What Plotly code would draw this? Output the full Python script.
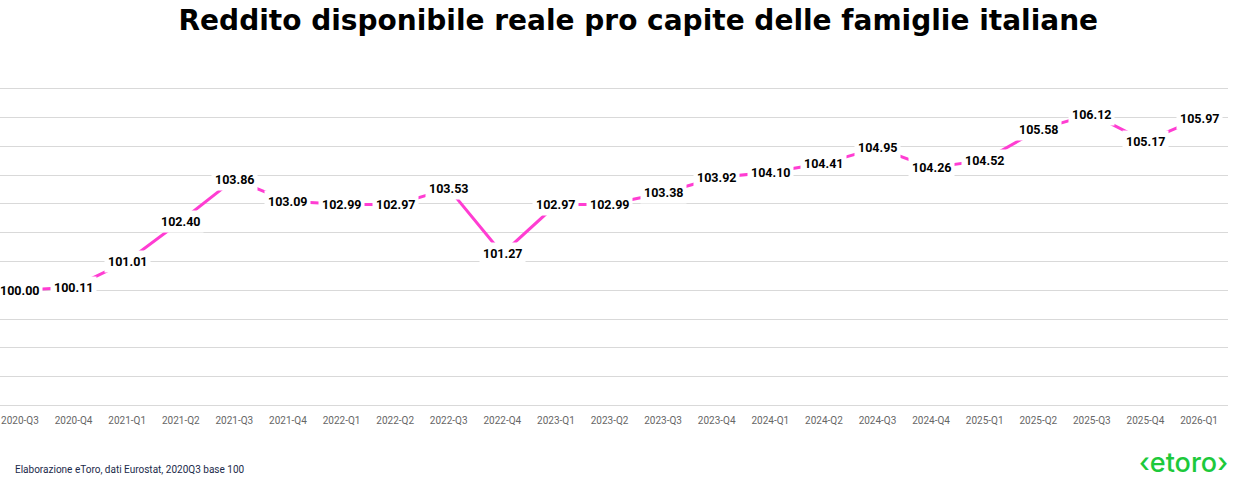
import plotly.graph_objects as go

# Dati: reddito disponibile reale pro capite, 2020Q3 = 100
trimestri = [
    "2020-Q3", "2020-Q4",
    "2021-Q1", "2021-Q2", "2021-Q3", "2021-Q4",
    "2022-Q1", "2022-Q2", "2022-Q3", "2022-Q4",
    "2023-Q1", "2023-Q2", "2023-Q3", "2023-Q4",
    "2024-Q1", "2024-Q2", "2024-Q3", "2024-Q4",
    "2025-Q1", "2025-Q2", "2025-Q3", "2025-Q4",
    "2026-Q1",
]
reddito = [
    100.00, 100.11,
    101.01, 102.40, 103.86, 103.09,
    102.99, 102.97, 103.53, 101.27,
    102.97, 102.99, 103.38, 103.92,
    104.10, 104.41, 104.95, 104.26,
    104.52, 105.58, 106.12, 105.17,
    105.97,
]

title_text = "Reddito disponibile reale pro capite delle famiglie italiane"
source_text = "Elaborazione eToro, dati Eurostat, 2020Q3 base 100"

fig = go.Figure()

fig.add_trace(
    go.Scatter(
        x=trimestri,
        y=reddito,
        mode="lines",
        line=dict(color="#FF3DD2", width=3),
        hoverinfo="x+y",
        showlegend=False,
    )
)

# etichette con sfondo bianco che coprono la linea
for q, v in zip(trimestri, reddito):
    fig.add_annotation(
        x=q, y=v,
        text=f"{v:.2f}",
        showarrow=False,
        bgcolor="white",
        borderpad=3,
        font=dict(family="Roboto", size=12.5, color="black", weight="bold"),
    )

fig.update_layout(
    width=1259,
    height=479,
    paper_bgcolor="white",
    plot_bgcolor="white",
    margin=dict(l=0, r=31, t=87, b=72),
    title=dict(
        text=title_text,
        x=0.507, xanchor="center",
        y=0.958, yanchor="middle",
        font=dict(family="DejaVu Sans", size=28, color="black", weight="bold"),
    ),
    xaxis=dict(
        type="category",
        range=[-0.373, 22.54],
        showgrid=False,
        showline=False,
        zeroline=False,
        ticks="outside",
        ticklen=4,
        tickcolor="white",
        tickfont=dict(family="Roboto", size=10, color="#666666"),
    ),
    yaxis=dict(
        range=[95.95, 107.06],
        tickvals=list(range(96, 108)),
        showticklabels=False,
        showgrid=True,
        gridcolor="#D9D9D9",
        gridwidth=1,
        zeroline=False,
        showline=False,
    ),
)

fig.add_annotation(
    xref="paper", yref="paper",
    x=13 / 1228, y=-0.195,
    xanchor="left", yanchor="middle",
    text=source_text,
    showarrow=False,
    font=dict(family="Roboto", size=10, color="#1B2A4A"),
)

fig.add_annotation(
    xref="paper", yref="paper",
    x=1.002, y=-0.172,
    xanchor="right", yanchor="middle",
    text="‹etoro›",
    showarrow=False,
    font=dict(family="Inter", size=27, color="#1DC93B", weight=500),
)

fig.write_html(
    "out.html",
    config={"displayModeBar": False},
    post_script="document.body.style.margin='0';",
)
